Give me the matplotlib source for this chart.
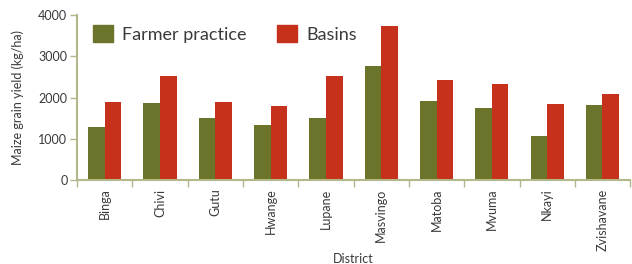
import numpy as np
import matplotlib
matplotlib.use("Agg")
import matplotlib.pyplot as plt
from matplotlib.patches import Patch

# ---------- dados ----------
districts = ["Binga", "Chivi", "Gutu", "Hwange", "Lupane", "Masvingo",
             "Matoba", "Mvuma", "Nkayi", "Zvishavane"]
farmer = [1285, 1865, 1500, 1330, 1500, 2765, 1915, 1745, 1065, 1820]
basins = [1890, 2520, 1890, 1795, 2520, 3735, 2425, 2330, 1840, 2085]

GREEN = "#6b742a"
RED = "#c5311a"
AXC = "#b3b78a"
TXT = "#3a3a3a"

plt.rcParams["font.family"] = ["Lato", "DejaVu Sans"]

fig = plt.figure(figsize=(6.32, 2.64), dpi=100)
ax = fig.add_axes([0.122, 0.318, 0.875, 0.625])

x = np.arange(len(districts))
w = 0.3
ax.bar(x - w / 2, farmer, w, color=GREEN, label="Farmer practice")
ax.bar(x + w / 2, basins, w, color=RED, label="Basins")

ax.set_xlim(-0.5, len(districts) - 0.5)
ax.set_ylim(0, 4000)
ax.set_yticks([0, 1000, 2000, 3000, 4000])
ax.set_xticks(x)
ax.set_xticklabels(districts, rotation=90)
ax.set_xticks(np.arange(-0.5, len(districts)), minor=True)
ax.tick_params(axis="x", which="major", length=0, pad=6, labelsize=9, labelcolor=TXT)
ax.tick_params(axis="x", which="minor", length=5, width=1, color=AXC, direction="out")
ax.tick_params(axis="y", length=5, width=1, color=AXC, labelsize=9, labelcolor=TXT, pad=2)

for s in ("top", "right"):
    ax.spines[s].set_visible(False)
for s in ("left", "bottom"):
    ax.spines[s].set_color(AXC)
    ax.spines[s].set_linewidth(1.5)

ax.set_ylabel("Maize grain yield (kg/ha)", fontsize=9, color=TXT, labelpad=10)
ax.set_xlabel("District", fontsize=9, color=TXT, labelpad=2)

handles = [Patch(color=GREEN, label="Farmer practice"), Patch(color=RED, label="Basins")]
ax.legend(handles=handles, loc="upper left", bbox_to_anchor=(0.0, 1.04), ncol=2,
          frameon=False, fontsize=13, handlelength=1.1, handleheight=1.1,
          handletextpad=0.5, columnspacing=1.7, labelcolor=TXT)

fig.savefig("out.png", dpi=100)
